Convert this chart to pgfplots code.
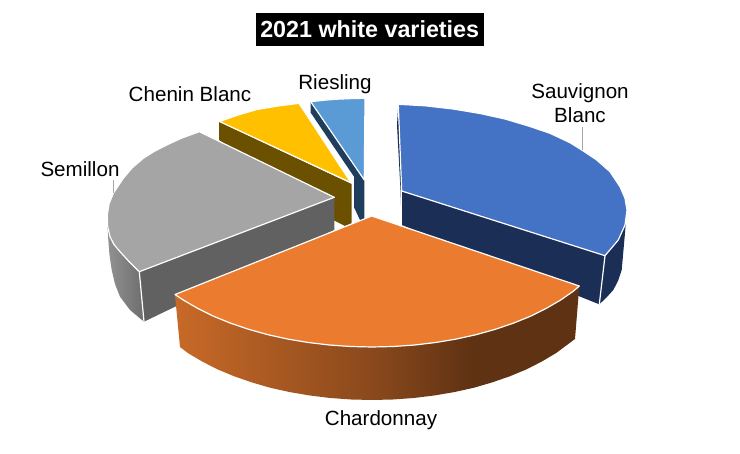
\documentclass[border=0pt]{standalone}
\usepackage{fontspec}
\setmainfont{Liberation Sans}
\usepackage{pgfplots}
\pgfplotsset{compat=1.18}
\definecolor{blueT}{HTML}{4472C4}
\definecolor{blueS}{HTML}{1B2E55}
\definecolor{orangeT}{HTML}{EB7C2F}
\definecolor{grayT}{HTML}{A5A5A5}
\definecolor{grayS}{HTML}{616161}
\definecolor{yellowT}{HTML}{FFC000}
\definecolor{yellowS}{HTML}{6B5000}
\definecolor{riesT}{HTML}{5B9BD5}
\definecolor{riesS}{HTML}{1F3D5C}
\definecolor{leader}{HTML}{A6A6A6}
\pgfdeclarehorizontalshading{orangeside}{100bp}{color(0bp)=(orangeT!60!black!95!orangeT);
  color(25bp)=(orangeT!85!black); color(50bp)=(orangeT!58!black); color(62bp)=(orangeT!40!black); color(100bp)=(orangeT!40!black)}
\pgfdeclarehorizontalshading{grayside}{100bp}{color(0bp)=(grayT!88!black);
  color(25bp)=(grayT!88!black); color(75bp)=(grayT!66!black); color(100bp)=(grayT!66!black)}
\tikzset{topface/.style={draw=white, line width=1.2pt}, labeltext/.style={font=\fontsize{20.6}{24}\selectfont}}
\begin{document}
\begin{tikzpicture}
\begin{axis}[scale only axis, width=740pt, height=454pt,
    xmin=0, xmax=740, ymin=0, ymax=454, y dir=reverse, axis lines=none,
    clip=false, every axis plot/.append style={line join=round}]
% keep the whole canvas in the bounding box
\path (axis cs:0,0) rectangle (axis cs:740,454);
% Riesling
\addplot[fill=riesS, draw=none] coordinates {(310.7,101.7) (364.3,180) (364.3,220) (360,220) (354,207.3) (354,176.7) (310.7,112.7)} --cycle;
\addplot[fill=riesT, topface] coordinates {(310.7,101.7) (324,100.2) (337,99.2) (351,98.6) (365,98.3) (364.3,180)} --cycle;
% Chenin Blanc
\addplot[fill=yellowS, draw=none] coordinates {(219,121.7) (351.7,184) (351.7,223.3) (345,226) (333,220) (219,140)} --cycle;
\addplot[fill=yellowT, topface] coordinates {(219.5,121.5) (238,115) (257,109.5) (278,106) (299,103.3) (351,182.7)} --cycle;
% Semillon
\addplot[shading=grayside, draw=none] coordinates {(107.3,220) (108.3,240) (109.5,255) (111.7,270) (115,284) (120,296.7) (130,310) (144,321.7) (139.3,271.7)} --cycle;
\addplot[fill=grayS, draw=none] coordinates {(139.3,271.7) (334.3,197.3) (334.3,230) (144,321.7)} --cycle;
\addplot[draw=white, line width=1.2pt] coordinates {(139.3,271.7) (144,321.7)};
\addplot[fill=grayT, topface] coordinates {(199.3,131.7) (182,138) (166.7,145) (154,151.5) (143.3,158.3) (132,168) (123.3,178.3) (113.3,193.3) (109,204) (107.3,215) (107.6,226) (110,236.7) (114,244.5) (120,251.7) (129,261.5) (139.3,271.7) (334.3,197.3)} --cycle;
% Sauvignon Blanc
\addplot[fill=blueS, draw=none] coordinates {(398.3,104.3) (401.7,191) (401.7,225) (400.5,190) (397,125)} --cycle;
\addplot[fill=blueS, draw=none] coordinates {(401.7,191) (605,255.7) (599.3,304.3) (401.7,225)} --cycle;
\addplot[fill=blueS, draw=none] coordinates {(626.7,210) (625,233) (621.7,270) (618,281) (613.3,290) (606,298) (599.3,304.3) (605,255.7)} --cycle;
\addplot[draw=white, line width=1.2pt] coordinates {(605,255.7) (599.3,304.3)};
\addplot[draw=white, line width=1.2pt] coordinates {(401.7,191) (401.7,225)};
\addplot[fill=blueT, topface] coordinates {(398.3,104.3) (425,105.8) (453,109) (480,113.5) (505,119) (530,126.5) (550,133.3) (570,142.7) (583.3,151) (596.7,160) (610,171.7) (620,186.7) (625,198.3) (627,210) (625,225) (618.3,240) (605,255.7) (401.7,191)} --cycle;
% Chardonnay
\addplot[shading=orangeside, draw=none] coordinates {(175,295) (180,347) (188.1,353.2) (202.3,361.6) (217.6,369.4) (234.2,376.3) (251.8,382.4) (270,387.7) (289.8,392.1) (309.8,395.5) (330.3,398) (351.1,399.5) (372,400) (392.9,399.5) (413.7,398) (434.2,395.5) (454.2,392.1) (474,387.7) (492.2,382.4) (509.8,376.3) (526.4,369.4) (541.7,361.6) (555.9,353.2) (575,339) (579.3,286)} --cycle;
\addplot[fill=orangeT, topface] coordinates {(371.7,216) (579.3,286) (573.5,291.1) (560.4,300.2) (545.9,308.6) (530.1,316.4) (513.1,323.3) (495,329.4) (476,334.7) (456.1,339.1) (435.7,342.5) (414.7,345) (393.4,346.5) (372,347) (350.6,346.5) (329.3,345) (308.3,342.5) (287.9,339.1) (268,334.7) (249,329.4) (230.9,323.3) (213.9,316.4) (198.1,308.6) (183.6,300.2) (175,294.5)} --cycle;
% leader lines
\addplot[draw=leader, line width=1pt] coordinates {(582.7,127) (582.7,150)};
\addplot[draw=leader, line width=1pt] coordinates {(113.3,180) (113.3,193)};
% labels
\node[labeltext, align=center] at (axis cs:580,103) {Sauvignon\\Blanc};
\node[labeltext] at (axis cs:381,420) {Chardonnay};
\node[labeltext] at (axis cs:80,169) {Semillon};
\node[labeltext] at (axis cs:190,94) {Chenin Blanc};
\node[labeltext] at (axis cs:335,84) {Riesling};
\node[fill=black, text=white, font=\fontsize{23.3}{28}\selectfont\bfseries, inner xsep=4.5pt, inner ysep=0pt, minimum height=32.4pt] at (axis cs:369.7,29.5) {2021 white varieties};
\end{axis}
\end{tikzpicture}
\end{document}
